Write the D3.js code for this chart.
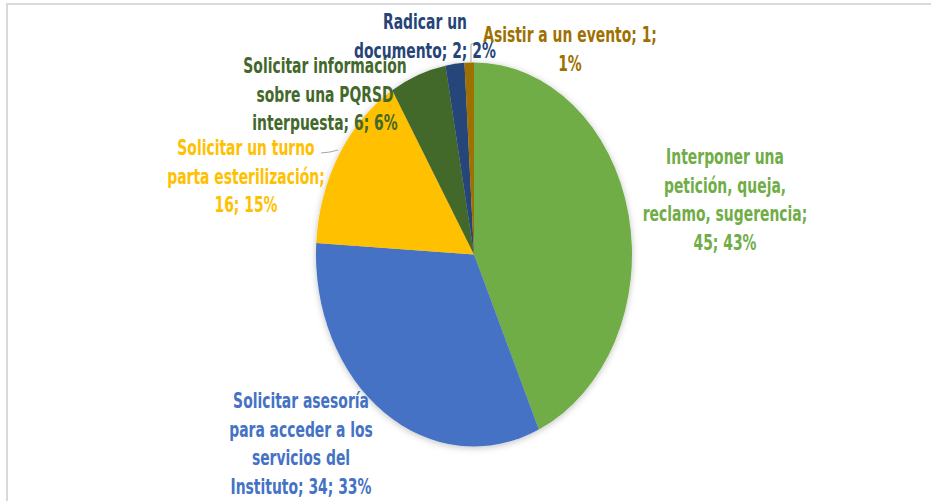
<!DOCTYPE html>
<html><head><meta charset="utf-8">
<script src="https://cdn.jsdelivr.net/npm/d3@7/dist/d3.min.js"></script>
<style>body{margin:0;background:#fff;} svg{display:block;}</style>
</head><body>
<script>
const categories = ["Interponer una petición, queja, reclamo, sugerencia","Solicitar asesoría para acceder a los servicios del Instituto","Solicitar un turno parta esterilización","Solicitar información sobre una PQRSD interpuesta","Radicar un documento","Asistir a un evento"];
const values = [45, 34, 16, 6, 2, 1];
const percents = [43, 33, 15, 6, 2, 1];
const labelLines = [
  ["Interponer una","petición, queja,","reclamo, sugerencia;","45; 43%"],
  ["Solicitar asesoría","para acceder a los","servicios del","Instituto; 34; 33%"],
  ["Solicitar un turno","parta esterilización;","16; 15%"],
  ["Solicitar información","sobre una PQRSD","interpuesta; 6; 6%"],
  ["Radicar un","documento; 2; 2%"],
  ["Asistir a un evento; 1;","1%"]
];
const colors = ["#70ad47","#4472c4","#ffc000","#43682b","#264478","#9e7000"];
// layout
const W = 931, H = 501;
const cx = 474, cy = 254.5, rx = 158, ry = 192;
const sy = ry / rx;
const labelPos = [[725,164],[301,408],[246,155],[325,73],[425,29],[570,42]];
const lineStep = 28.7;
const fontSize = 17;
const sxText = 0.91;

const svg = d3.select("body").append("svg").attr("width", W).attr("height", H);
const defs = svg.append("defs");
const f = defs.append("filter").attr("id","sh").attr("x","-20%").attr("y","-20%").attr("width","140%").attr("height","140%");
f.append("feDropShadow").attr("dx",0).attr("dy",1).attr("stdDeviation",3).attr("flood-color","#000").attr("flood-opacity",0.25);

// frame
svg.append("path").attr("d",`M7,${H} L7,4 L${W},4`).attr("fill","none").attr("stroke","#d9d9d9").attr("stroke-width",2);

const pie = d3.pie().sort(null).value(d => d)(values);
const arc = d3.arc().innerRadius(0).outerRadius(rx);
const g = svg.append("g").attr("transform",`translate(${cx},${cy}) scale(1,${sy})`).attr("filter","url(#sh)");
g.selectAll("path").data(pie).join("path").attr("d",arc).attr("fill",(d,i)=>colors[i]);

// leader lines
svg.append("path").attr("d","M321,153 L330,152 L338,150").attr("fill","none").attr("stroke","#a6a6a6").attr("stroke-width",1);
svg.append("path").attr("d","M471,62 L471,44 L475,44").attr("fill","none").attr("stroke","#a6a6a6").attr("stroke-width",1);

// labels
const lg = svg.selectAll("g.lab").data(labelLines).join("g").attr("class","lab")
  .attr("transform",(d,i)=>`translate(${labelPos[i][0]},${labelPos[i][1]}) scale(${sxText},${sy})`);
lg.each(function(lines,i){
  const t = d3.select(this).append("text")
    .attr("text-anchor","middle")
    .attr("font-family","'Liberation Sans Narrow','DejaVu Sans Condensed','Roboto',sans-serif")
    .attr("font-weight","bold").attr("font-size",fontSize)
    .attr("fill",colors[i]);
  lines.forEach((s,k)=>{
    t.append("tspan").attr("x",0).attr("y",k*lineStep/sy).text(s);
  });
});
</script>
</body></html>
